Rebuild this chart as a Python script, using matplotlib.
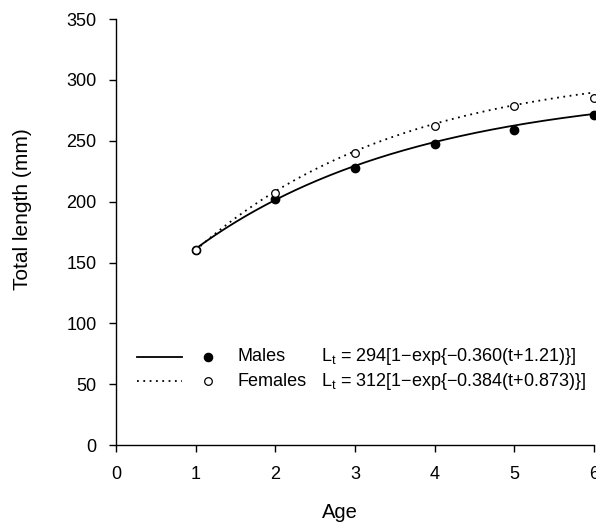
import numpy as np
import matplotlib
matplotlib.use("Agg")
import matplotlib.pyplot as plt

plt.rcParams['font.family'] = ['Liberation Sans', 'DejaVu Sans']
plt.rcParams['mathtext.default'] = 'regular'

ages = [1, 2, 3, 4, 5, 6]
males = [160, 202, 228, 247, 259, 271]
females = [160, 207, 240, 262, 279, 285]

# von Bertalanffy parameters (from the legend)
m_Linf, m_K, m_t0 = 294, 0.360, -1.21
f_Linf, f_K, f_t0 = 312, 0.384, -0.873

xticks = [0, 1, 2, 3, 4, 5, 6]
yticks = [0, 50, 100, 150, 200, 250, 300, 350]

fig = plt.figure(figsize=(5.96, 5.23), dpi=100)
ax = fig.add_axes([0.1946, 0.149, 0.802, 0.8145])

t = np.linspace(1, 6, 200)
ax.plot(t, m_Linf * (1 - np.exp(-m_K * (t - m_t0))), color='black', lw=1.3, clip_on=False)
ax.plot(t, f_Linf * (1 - np.exp(-f_K * (t - f_t0))), color='black', lw=1.3,
        linestyle=(0, (1, 2.5)), clip_on=False)
ax.plot(ages, males, 'o', color='black', ms=6, clip_on=False, zorder=3)
ax.plot(ages, females, 'o', mfc='white', mec='black', mew=0.9, ms=5.5, clip_on=False, zorder=3)

# legend drawn in axes coordinates
tr = ax.transAxes
for yy, ls, filled, name, eq in [
    (0.207, '-', True, 'Males', r'L$_t$ = 294[1$-$exp{$-$0.360(t+1.21)}]'),
    (0.150, (0, (1, 2.5)), False, 'Females', r'L$_t$ = 312[1$-$exp{$-$0.384(t+0.873)}]'),
]:
    ax.plot([0.044, 0.138], [yy, yy], color='black', lw=1.3, linestyle=ls, transform=tr)
    ax.plot([0.192], [yy], 'o', transform=tr, ms=6 if filled else 5.5,
            mfc='black' if filled else 'white', mec='black', mew=0.9)
    ax.text(0.255, yy, name, transform=tr, fontsize=13, va='center', ha='left')
    ax.text(0.429, yy, eq, transform=tr, fontsize=13, va='center', ha='left')

ax.set_xlim(0, 6)
ax.set_ylim(0, 350)
ax.set_xticks(xticks)
ax.set_yticks(yticks)
ax.tick_params(labelsize=13, direction='out', length=5, width=1)
ax.tick_params(axis='x', pad=10)
ax.tick_params(axis='y', pad=9)
for s in ['top', 'right']:
    ax.spines[s].set_visible(False)
for s in ['left', 'bottom']:
    ax.spines[s].set_linewidth(1)
ax.set_xlabel('Age', fontsize=14.5)
ax.set_ylabel('Total length (mm)', fontsize=15)
ax.xaxis.set_label_coords(0.469, -0.136)
ax.yaxis.set_label_coords(-0.176, 0.554)

fig.savefig('out.png', dpi=100)
